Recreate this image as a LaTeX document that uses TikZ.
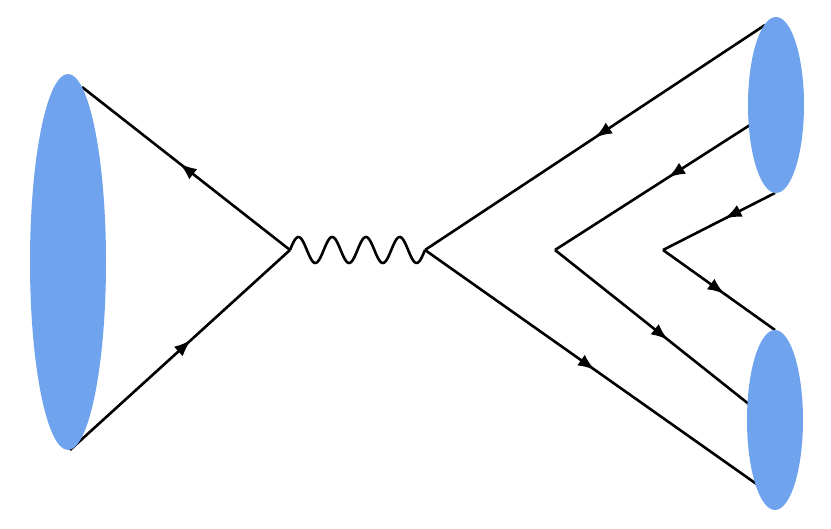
\documentclass[tikz,border=0pt]{standalone}
\usetikzlibrary{decorations.markings,arrows.meta}
\definecolor{blob}{HTML}{6FA3EE}
\begin{document}
\begin{tikzpicture}[x=1pt,y=-1pt,
  line/.style={line width=2.6pt,black},
  fa/.style={line,postaction={decorate},decoration={markings,mark=at position #1 with {\arrow{Latex[length=17pt,width=13pt]}}}},
  blobshape/.style={fill=blob,draw=none}]
\useasboundingbox (0,0) rectangle (831,529);
\coordinate (L1) at (82,87);
\coordinate (L2) at (70,450);
\coordinate (V1) at (290,250);
\coordinate (V2) at (425,250);
\coordinate (R1) at (765,25);
\coordinate (R2) at (765,490);
\coordinate (V3) at (555,250);
\coordinate (R3) at (750,125);
\coordinate (R4) at (750,405);
\coordinate (V4) at (663,250);
\coordinate (R5) at (775,193);
\coordinate (R6) at (775,330);
\draw[fa=0.53] (V1) -- (L1);
\draw[fa=0.55] (L2) -- (V1);
\draw[line] plot[domain=0:135,samples=120,smooth] ({290+\x},{250-13*sin(\x/33.75*360)});
\draw[fa=0.5] (R1) -- (V2);
\draw[fa=0.5] (V2) -- (R2);
\draw[fa=0.42] (R3) -- (V3);
\draw[fa=0.58] (V3) -- (R4);
\draw[fa=0.45] (R5) -- (V4);
\draw[fa=0.55] (V4) -- (R6);
\fill[blobshape] (68,262) ellipse [x radius=38, y radius=188];
\fill[blobshape] (776,105) ellipse [x radius=28, y radius=88];
\fill[blobshape] (775,420) ellipse [x radius=28, y radius=90];
\end{tikzpicture}
\end{document}
